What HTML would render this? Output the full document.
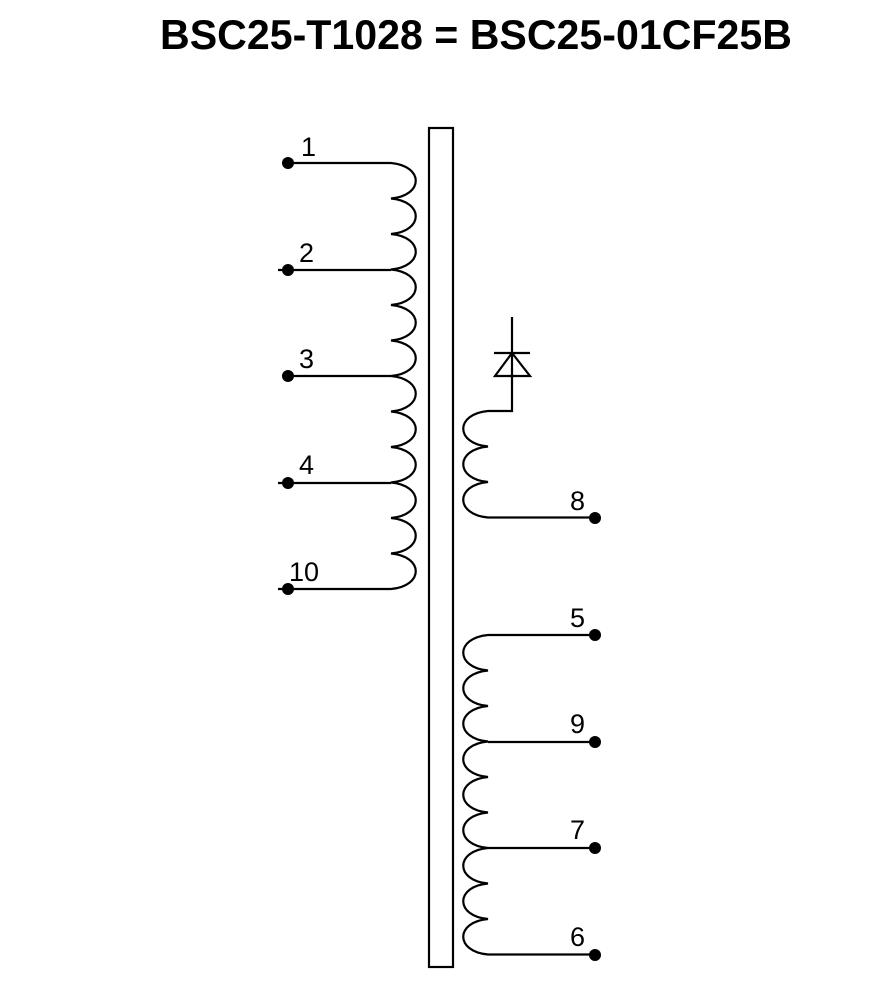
<!DOCTYPE html>
<html><head><meta charset="utf-8"><style>
html,body{margin:0;padding:0;background:#fff;}
svg{display:block;}
text{font-family:"Liberation Sans",Arial,sans-serif;fill:#000;}
</style></head><body>
<svg width="885" height="995" viewBox="0 0 885 995" xmlns="http://www.w3.org/2000/svg">
<text x="160" y="49" font-size="42" font-weight="bold" textLength="632" lengthAdjust="spacingAndGlyphs">BSC25-T1028 = BSC25-01CF25B</text>
<rect x="429" y="128" width="24" height="839" fill="none" stroke="#000" stroke-width="2.2"/>
<g fill="none" stroke="#000" stroke-width="2.2">
<path d="M288 163 H391 c33 3 33 32.5 0 35.5 c33 3 33 32.5 0 35.5 c33 3 33 32.5 0 35.5 c33 3 33 32.5 0 35.5 c33 3 33 32.5 0 35.5 c33 3 33 32.5 0 35.5 c33 3 33 32.5 0 35.5 c33 3 33 32.5 0 35.5 c33 3 33 32.5 0 35.5 c33 3 33 32.5 0 35.5 c33 3 33 32.5 0 35.5 c33 3 33 32.5 0 35.5 H278"/>
<path d="M278 270 H391 M288 376 H391 M278 483 H391"/>
<path d="M512 317 V411 H488 c-33 3 -33 32.5 0 35.5 c-33 3 -33 32.5 0 35.5 c-33 3 -33 32.5 0 35.5 H595"/>
<path d="M494 353 H530"/>
<path d="M512 353 L495 376 H530 Z"/>
<path d="M595 635 H488 c-33 3 -33 32.5 0 35.5 c-33 3 -33 32.5 0 35.5 c-33 3 -33 32.5 0 35.5 c-33 3 -33 32.5 0 35.5 c-33 3 -33 32.5 0 35.5 c-33 3 -33 32.5 0 35.5 c-33 3 -33 32.5 0 35.5 c-33 3 -33 32.5 0 35.5 c-33 3 -33 32.5 0 35.5 H595"/>
<path d="M488 742 H595 M488 848 H595"/>
</g>
<g fill="#000">
<circle cx="288" cy="163" r="6"/><circle cx="288" cy="270" r="6"/><circle cx="288" cy="376" r="6"/><circle cx="288" cy="483" r="6"/><circle cx="288" cy="589" r="6"/>
<circle cx="595" cy="518" r="6"/><circle cx="595" cy="635" r="6"/><circle cx="595" cy="742" r="6"/><circle cx="595" cy="848" r="6"/><circle cx="595" cy="955" r="6"/>
</g>
<g font-size="27">
<text x="301" y="156">1</text>
<text x="299" y="262">2</text>
<text x="299" y="368">3</text>
<text x="299" y="474">4</text>
<text x="289" y="581">10</text>
<text x="570" y="510">8</text>
<text x="570" y="627">5</text>
<text x="570" y="733">9</text>
<text x="570" y="839">7</text>
<text x="570" y="946">6</text>
</g>
</svg>
</body></html>
